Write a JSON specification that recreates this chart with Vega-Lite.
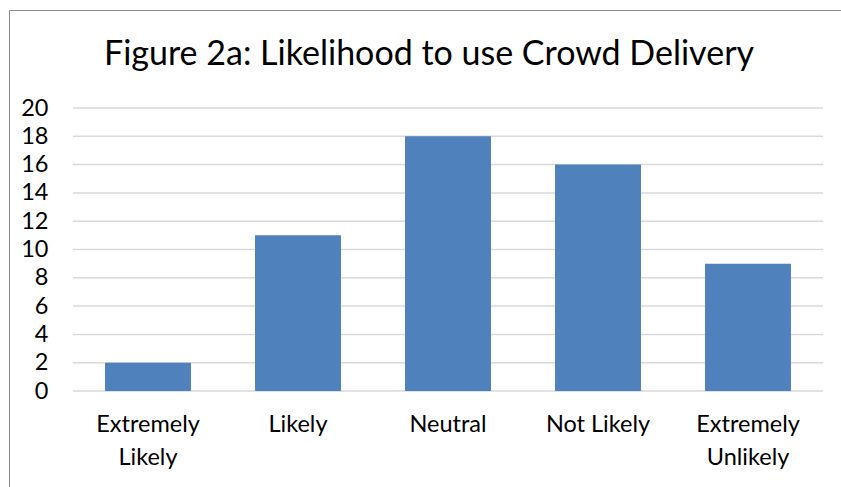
{
  "$schema": "https://vega.github.io/schema/vega-lite/v6.json",
  "width": 840,
  "height": 480,
  "autosize": "none",
  "padding": {"left": 9, "top": 10, "right": 0, "bottom": 0},
  "background": "white",
  "config": {
    "font": "Lato",
    "view": {"stroke": "#898989", "strokeWidth": 1}
  },
  "title": {
    "text": "Figure 2a: Likelihood to use Crowd Delivery",
    "anchor": "middle",
    "fontSize": 34,
    "fontWeight": "normal",
    "color": "#000000",
    "baseline": "top",
    "offset": 0,
    "dy": 62
  },
  "layer": [
    {
      "data": {"values": [
        {"v": 0}, {"v": 2}, {"v": 4}, {"v": 6}, {"v": 8}, {"v": 10},
        {"v": 12}, {"v": 14}, {"v": 16}, {"v": 18}, {"v": 20}
      ]},
      "mark": {"type": "rule", "color": "#d9d9d9", "strokeWidth": 1.5},
      "encoding": {
        "x": {"datum": 0, "type": "quantitative", "scale": {"domain": [0, 1], "range": [64, 814]}, "axis": null},
        "x2": {"datum": 1},
        "y": {"field": "v", "type": "quantitative", "scale": {"domain": [0, 20], "range": [381, 98]},
          "axis": {"values": [0, 2, 4, 6, 8, 10, 12, 14, 16, 18, 20], "offset": -64, "domain": false, "ticks": false, "grid": false,
            "labelPadding": 25, "labelFontSize": 23.5, "labelColor": "#000000", "title": null}}
      }
    },
    {
      "data": {"values": [
        {"category": "Extremely Likely", "count": 2},
        {"category": "Likely", "count": 11},
        {"category": "Neutral", "count": 18},
        {"category": "Not Likely", "count": 16},
        {"category": "Extremely Unlikely", "count": 9}
      ]},
      "mark": {"type": "bar", "color": "#4f81bd"},
      "encoding": {
        "x": {"field": "category", "type": "nominal", "sort": null,
          "scale": {"range": [64, 814], "paddingInner": 0.427, "paddingOuter": 0.2135},
          "axis": {"orient": "bottom", "offset": -99, "domain": false, "ticks": false, "labelAngle": 0,
            "labelPadding": 21, "labelFontSize": 23.5, "labelColor": "#000000", "labelLineHeight": 33, "title": null,
            "labelExpr": "datum.label == 'Extremely Likely' ? ['Extremely', 'Likely'] : datum.label == 'Extremely Unlikely' ? ['Extremely', 'Unlikely'] : datum.label"}},
        "y": {"field": "count", "type": "quantitative"}
      }
    }
  ],
  "resolve": {"scale": {"x": "independent"}}
}
